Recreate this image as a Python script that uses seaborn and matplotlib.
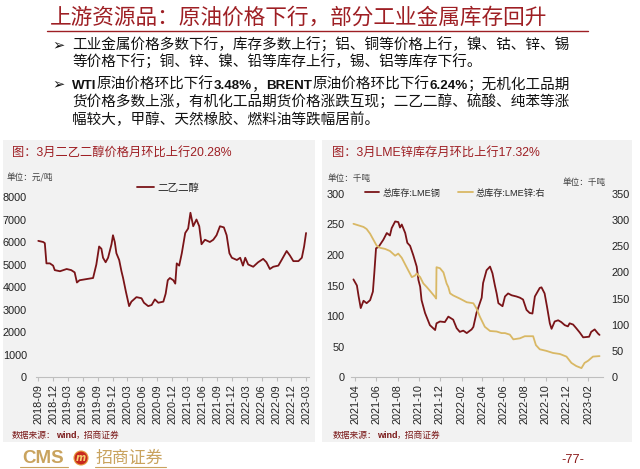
import numpy as np
import pandas as pd
import matplotlib
matplotlib.use('Agg')
import matplotlib.pyplot as plt
from matplotlib.patches import Rectangle, Ellipse
from matplotlib.lines import Line2D
import seaborn as sns

# ---------------- data ----------------
deg_dates = ['2018-09-01', '2018-10-01', '2018-10-11', '2018-10-21', '2018-11-11', '2018-12-01',
             '2018-12-11', '2019-01-12', '2019-02-22', '2019-03-22', '2019-04-12', '2019-04-26',
             '2019-05-12', '2019-06-22', '2019-08-03', '2019-08-23', '2019-09-09', '2019-09-23',
             '2019-10-03', '2019-10-19', '2019-11-03', '2019-11-24', '2019-12-03', '2019-12-14',
             '2019-12-24', '2020-01-10', '2020-01-24', '2020-02-03', '2020-02-20', '2020-03-11',
             '2020-03-25', '2020-04-25', '2020-05-26', '2020-06-10', '2020-07-06', '2020-07-27',
             '2020-08-16', '2020-09-06', '2020-10-07', '2020-10-21', '2020-11-03', '2020-11-16',
             '2020-12-07', '2020-12-19', '2020-12-28', '2021-01-12', '2021-01-28', '2021-02-18',
             '2021-03-08', '2021-03-22', '2021-04-08', '2021-04-28', '2021-05-15', '2021-05-29',
             '2021-06-19', '2021-07-19', '2021-08-09', '2021-08-29', '2021-09-19', '2021-10-13',
             '2021-10-30', '2021-11-16', '2021-12-01', '2022-01-01', '2022-01-21', '2022-02-07',
             '2022-02-21', '2022-03-11', '2022-04-11', '2022-05-11', '2022-06-11', '2022-07-01',
             '2022-07-22', '2022-08-12', '2022-09-12', '2022-10-02', '2022-11-02', '2022-11-22',
             '2022-12-13', '2023-01-13', '2023-02-03', '2023-02-17', '2023-03-01']
deg_values = [6050, 6000, 5950, 5050, 5050, 4950,
              4750, 4700, 4800, 4750, 4650, 4200,
              4300, 4350, 4400, 5000, 5800, 5700,
              5300, 5100, 5300, 5900, 6300, 6000,
              5500, 5200, 4700, 4400, 3800, 3150,
              3350, 3550, 3500, 3300, 3150, 3200,
              3450, 3300, 3350, 3700, 4300, 4400,
              4300, 4150, 5050, 4950, 5500, 6400,
              6600, 7300, 6700, 7000, 6700, 5900,
              6100, 6000, 6100, 6300, 6700, 6650,
              6300, 5500, 5300, 5200, 5300, 4950,
              5300, 5000, 4900, 5100, 5250, 5100,
              4800, 4900, 4950, 5200, 5600, 5400,
              5150, 5150, 5300, 5800, 6400]

cu_dates = ['2021-03-27', '2021-04-06', '2021-04-11', '2021-04-17', '2021-04-25', '2021-05-04',
            '2021-05-14', '2021-05-22', '2021-05-26', '2021-05-31', '2021-06-07', '2021-06-21',
            '2021-07-01', '2021-07-10', '2021-07-15', '2021-07-25', '2021-08-03', '2021-08-08',
            '2021-08-13', '2021-08-23', '2021-08-29', '2021-09-06', '2021-09-15', '2021-09-25',
            '2021-09-30', '2021-10-05', '2021-10-09', '2021-10-19', '2021-11-02', '2021-11-17',
            '2021-11-21', '2021-12-01', '2021-12-15', '2021-12-25', '2022-01-08', '2022-01-18',
            '2022-01-27', '2022-02-06', '2022-02-16', '2022-03-02', '2022-03-07', '2022-03-16',
            '2022-03-31', '2022-04-04', '2022-04-14', '2022-04-24', '2022-05-01', '2022-05-08',
            '2022-05-13', '2022-05-18', '2022-05-30', '2022-06-06', '2022-06-15', '2022-06-25',
            '2022-07-09', '2022-07-19', '2022-07-28', '2022-08-07', '2022-08-16', '2022-08-24',
            '2022-08-31', '2022-09-14', '2022-09-19', '2022-09-28', '2022-10-05', '2022-10-13',
            '2022-10-18', '2022-10-27', '2022-11-06', '2022-11-15', '2022-11-25', '2022-12-04',
            '2022-12-09', '2022-12-19', '2022-12-28', '2023-01-07', '2023-01-17', '2023-02-03',
            '2023-02-09', '2023-02-19', '2023-03-01', '2023-03-05']
cu_values = [160, 150, 132, 113, 125, 121,
             126, 140, 170, 211, 213, 225,
             236, 232, 244, 255, 254, 245,
             250, 236, 220, 215, 200, 181,
             159, 148, 126, 105, 85, 77,
             88, 91, 90, 99, 94, 80,
             74, 76, 72, 78, 82, 105,
             130, 154, 175, 181, 170, 150,
             137, 121, 116, 132, 137, 134,
             132, 130, 127, 110, 105, 104,
             132, 146, 147, 137, 115, 88,
             79, 91, 93, 90, 85, 83,
             88, 86, 80, 73, 65, 66,
             74, 78, 71, 69]

zn_dates = ['2021-03-27', '2021-04-25', '2021-05-04', '2021-05-14', '2021-06-02', '2021-06-12',
            '2021-06-26', '2021-07-10', '2021-07-25', '2021-08-03', '2021-08-13', '2021-08-27',
            '2021-09-11', '2021-09-20', '2021-09-25', '2021-10-05', '2021-10-14', '2021-10-24',
            '2021-11-02', '2021-11-17', '2021-11-20', '2021-11-21', '2021-12-01', '2021-12-11',
            '2021-12-20', '2021-12-25', '2021-12-30', '2022-01-08', '2022-01-27', '2022-02-16',
            '2022-03-07', '2022-03-16', '2022-03-26', '2022-04-09', '2022-04-24', '2022-05-13',
            '2022-05-27', '2022-06-06', '2022-06-20', '2022-06-30', '2022-07-19', '2022-08-02',
            '2022-08-26', '2022-09-03', '2022-09-14', '2022-10-03', '2022-10-22', '2022-11-11',
            '2022-11-30', '2022-12-14', '2022-12-28', '2023-01-12', '2023-01-21', '2023-01-31',
            '2023-02-14', '2023-03-05']
zn_values = [293, 287, 283, 274, 251, 247,
             245, 241, 232, 236, 228, 210,
             191, 194, 198, 191, 179, 172,
             165, 153, 150, 210, 208, 200,
             179, 172, 160, 156, 150, 143,
             141, 131, 115, 96, 88, 87,
             84, 84, 81, 72, 74, 78,
             78, 61, 53, 50, 46, 44,
             39, 27, 21, 17, 27, 31,
             39, 40]

left_xticks = ['2018-09', '2018-12', '2019-03', '2019-06', '2019-09', '2019-12', '2020-03',
               '2020-06', '2020-09', '2020-12', '2021-03', '2021-06', '2021-09', '2021-12',
               '2022-03', '2022-06', '2022-09', '2022-12', '2023-03']
left_yticks = [0, 1000, 2000, 3000, 4000, 5000, 6000, 7000, 8000]
right_xticks = ['2021-04', '2021-06', '2021-08', '2021-10', '2021-12', '2022-02', '2022-04',
                '2022-06', '2022-08', '2022-10', '2022-12', '2023-02']
right_yticks_l = [0, 50, 100, 150, 200, 250, 300]
right_yticks_r = [0, 50, 100, 150, 200, 250, 300, 350]

# ---------------- style ----------------
sns.set_theme(style='white')
plt.rcParams['font.family'] = ['Liberation Sans', 'Noto Sans CJK SC']
plt.rcParams['axes.unicode_minus'] = False

W, H = 640, 469
fig = plt.figure(figsize=(W / 100, H / 100), dpi=100)
fig.patch.set_facecolor('white')

def fx(px):
    return px / W

def fy(py):
    return 1 - py / H

RED = '#9E1F24'
LINE_RED = '#7A1418'
GOLD = '#D9B865'
SRC_RED = '#7B1A1A'
PANEL = '#F2F2F2'
CJK = ['Noto Sans CJK SC', 'DejaVu Sans']

# panels
for (x0, y0, x1, y1) in [(3, 140, 315, 442), (322, 140, 632, 442)]:
    fig.add_artist(Rectangle((fx(x0), fy(y1)), fx(x1) - fx(x0), fy(y0) - fy(y1),
                             transform=fig.transFigure, facecolor=PANEL, edgecolor='none', zorder=0))

# header
fig.text(fx(50), fy(18), '上游资源品：原油价格下行，部分工业金属库存回升', family=CJK,
         fontsize=15.6, color=RED, va='center', ha='left')
fig.add_artist(Line2D([fx(47), fx(588)], [fy(31), fy(31)], transform=fig.transFigure,
                      color=RED, lw=1.0))

renderer = fig.canvas.get_renderer()

def seg_text(x_px, y_px, segments):
    x = fx(x_px)
    for s, props in segments:
        t = fig.text(x, fy(y_px), s, va='baseline', ha='left', **props)
        bb = t.get_window_extent(renderer)
        x = bb.x1 / fig.bbox.width

cjk_p = dict(family=CJK, fontsize=10.5, color='#111111')
bold_p = dict(family=['Liberation Sans'], fontsize=9.6, weight='bold', color='#111111')

for yb in (49, 88):
    fig.text(fx(52), fy(yb), '➢', family=['DejaVu Sans'], fontsize=10.5, weight='bold',
             color='#111111', va='baseline', ha='left')

seg_text(72, 50, [('工业金属价格多数下行，库存多数上行；铝、铜等价格上行，镍、钴、锌、锡', cjk_p)])
seg_text(72, 67, [('等价格下行；铜、锌、镍、铅等库存上行，锡、铝等库存下行。', cjk_p)])
seg_text(72, 89, [('WTI', bold_p), ('原油价格环比下行', cjk_p), ('3.48%', bold_p), ('，', cjk_p),
                  ('BRENT', bold_p), ('原油价格环比下行', cjk_p), ('6.24%', bold_p),
                  ('；无机化工品期', cjk_p)])
seg_text(72, 107, [('货价格多数上涨，有机化工品期货价格涨跌互现；二乙二醇、硫酸、纯苯等涨', cjk_p)])
seg_text(72, 124, [('幅较大，甲醇、天然橡胶、燃料油等跌幅居前。', cjk_p)])

# chart titles / units / sources
fig.text(fx(12), fy(153), '图：3月二乙二醇价格月环比上行20.28%', family=['Liberation Sans', 'Noto Sans CJK SC'],
         fontsize=8.8, color=RED, va='center', ha='left')
fig.text(fx(332), fy(153), '图：3月LME锌库存月环比上行17.32%', family=['Liberation Sans', 'Noto Sans CJK SC'],
         fontsize=8.8, color=RED, va='center', ha='left')
unit_p = dict(family=CJK, fontsize=6.2, color='#404040', va='center', ha='left')
fig.text(fx(7), fy(178), '单位：元/吨', **unit_p)
fig.text(fx(328), fy(178), '单位：千吨', **unit_p)
fig.text(fx(563), fy(182), '单位：千吨', **unit_p)

src_c = dict(family=CJK, fontsize=6.3, color=SRC_RED)
src_b = dict(family=['Liberation Sans'], fontsize=6.5, weight='bold', color=SRC_RED)
seg_text(12, 438, [('数据来源：', src_c), ('wind', src_b), ('，招商证券', src_c)])
seg_text(333, 438, [('数据来源：', src_c), ('wind', src_b), ('，招商证券', src_c)])

# ---------------- left chart ----------------
df_deg = pd.DataFrame({'date': pd.to_datetime(deg_dates), 'value': deg_values})
ax1 = fig.add_axes([fx(36), fy(377), fx(309) - fx(36), fy(197) - fy(377)])
ax1.set_facecolor('none')
sns.lineplot(data=df_deg, x='date', y='value', ax=ax1, color=LINE_RED, lw=1.3, label='二乙二醇')
ax1.set_xlim(pd.Timestamp('2018-08-18'), pd.Timestamp('2023-03-19'))
ax1.set_ylim(0, 8000)
ax1.set_yticks(left_yticks)
ax1.set_yticklabels([str(v) for v in left_yticks])
ax1.set_xticks(pd.to_datetime(left_xticks))
ax1.set_xticklabels(left_xticks, rotation=90)
ax1.set_xlabel('')
ax1.set_ylabel('')
for s in ['left', 'right', 'top']:
    ax1.spines[s].set_visible(False)
ax1.spines['bottom'].set_color('#BFBFBF')
ax1.spines['bottom'].set_linewidth(0.8)
ax1.tick_params(axis='x', bottom=True, length=3, width=0.8, color='#BFBFBF', pad=2,
                labelsize=7.8, labelcolor='#222222')
ax1.tick_params(axis='y', left=False, length=0, pad=6.5, labelsize=7.8, labelcolor='#222222')
ax1.legend(loc='center', bbox_to_anchor=(fx(168), fy(188)), bbox_transform=fig.transFigure,
           frameon=False, handlelength=1.6, handletextpad=0.3,
           prop={'family': CJK, 'size': 7.6})

# ---------------- right chart ----------------
df_cu = pd.DataFrame({'date': pd.to_datetime(cu_dates), 'value': cu_values})
df_zn = pd.DataFrame({'date': pd.to_datetime(zn_dates), 'value': zn_values})
ax2 = fig.add_axes([fx(351), fy(377), fx(603) - fx(351), fy(194) - fy(377)])
ax2.set_facecolor('none')
ax3 = ax2.twinx()
ax3.set_facecolor('none')
sns.lineplot(data=df_cu, x='date', y='value', ax=ax2, color=LINE_RED, lw=1.3, legend=False)
sns.lineplot(data=df_zn, x='date', y='value', ax=ax3, color=GOLD, lw=1.3, legend=False)
xl = (pd.Timestamp('2021-03-20'), pd.Timestamp('2023-03-15'))
ax2.set_xlim(*xl)
ax3.set_xlim(*xl)
ax2.set_ylim(0, 300)
ax3.set_ylim(0, 350)
ax2.set_yticks(right_yticks_l)
ax2.set_yticklabels([str(v) for v in right_yticks_l])
ax3.set_yticks(right_yticks_r)
ax3.set_yticklabels([str(v) for v in right_yticks_r])
ax2.set_xticks(pd.to_datetime(right_xticks))
ax2.set_xticklabels(right_xticks, rotation=90)
for a in (ax2, ax3):
    a.set_xlabel('')
    a.set_ylabel('')
    for s in ['left', 'right', 'top']:
        a.spines[s].set_visible(False)
    a.spines['bottom'].set_visible(False)
ax2.spines['bottom'].set_visible(True)
ax2.spines['bottom'].set_color('#BFBFBF')
ax2.spines['bottom'].set_linewidth(0.8)
ax2.tick_params(axis='x', bottom=True, length=3, width=0.8, color='#BFBFBF', pad=2,
                labelsize=7.8, labelcolor='#222222')
ax2.tick_params(axis='y', left=False, length=0, pad=4.5, labelsize=7.8, labelcolor='#222222')
ax3.tick_params(axis='y', right=False, length=0, pad=6, labelsize=7.8, labelcolor='#222222')
handles = [Line2D([], [], color=LINE_RED, lw=1.3), Line2D([], [], color=GOLD, lw=1.3)]
ax3.legend(handles, ['总库存:LME铜', '总库存:LME锌:右'], loc='center', ncol=2,
           bbox_to_anchor=(fx(455), fy(193)), bbox_transform=fig.transFigure,
           frameon=False, handlelength=1.6, handletextpad=0.3, columnspacing=2.0,
           prop={'family': ['Liberation Sans', 'Noto Sans CJK SC'], 'size': 6.6})

# ---------------- footer ----------------
LOGO_GOLD = '#C9A35E'
fig.text(fx(22), fy(458), 'CMS', family=['Liberation Sans'], weight='bold', fontsize=13.5,
         color=LOGO_GOLD, va='center', ha='left')
fig.add_artist(Ellipse((fx(81), fy(458)), 14 / W, 14 / H, transform=fig.transFigure,
                       facecolor='#C8281E', edgecolor='#E8A040', lw=0.8))
fig.text(fx(81), fy(458), 'm', family=['DejaVu Sans'], weight='bold', style='italic',
         fontsize=7, color='#F5D070', va='center', ha='center')
fig.text(fx(96), fy(458), '招商证券', family=CJK, fontsize=12.2, color=LOGO_GOLD,
         va='center', ha='left')
fig.add_artist(Line2D([fx(20), fx(68)], [fy(467), fy(467)], transform=fig.transFigure,
                      color=LOGO_GOLD, lw=0.8))
fig.add_artist(Line2D([fx(95), fx(166)], [fy(467), fy(467)], transform=fig.transFigure,
                      color=LOGO_GOLD, lw=0.8))
fig.text(fx(573), fy(460), '-77-', family=['Liberation Sans'], fontsize=9.2, color='#8B1A1A',
         va='center', ha='center')

fig.savefig('out.png', dpi=100, facecolor='white')
